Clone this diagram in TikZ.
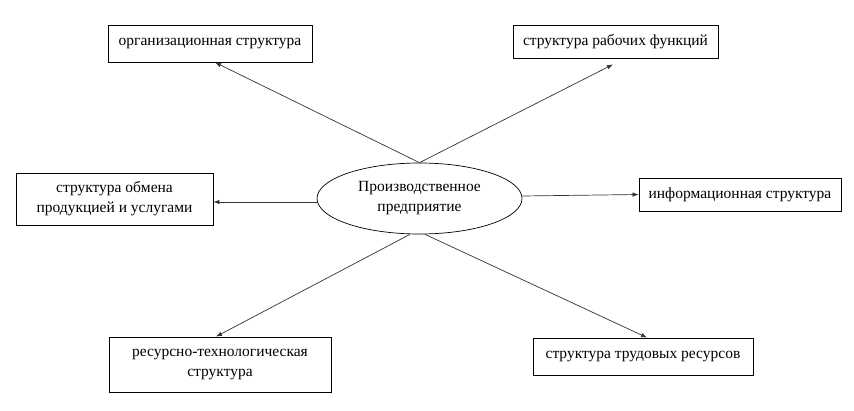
\documentclass[tikz,border=0pt]{standalone}
\usepackage{fontspec}
\setmainfont{Liberation Serif}
\newfontfamily\tnr{Liberation Serif}
\usetikzlibrary{arrows.meta,shapes.geometric}
\begin{document}
\begin{tikzpicture}[x=1pt,y=-1pt,
  box/.style={draw,line width=0.8pt,inner sep=0pt,align=center,font=\tnr\fontsize{15.5}{20}\selectfont},
  oval/.style={draw,ellipse,line width=0.7pt,inner sep=0pt,align=center,font=\tnr\fontsize{15.5}{20}\selectfont},
  arr/.style={line width=0.7pt,draw=black!80,-{Latex[length=6pt,width=4.5pt]}}]
\useasboundingbox (0,0) rectangle (854,410);
\node[box,minimum width=204pt,minimum height=37pt] (b1) at (210,43.5) {организационная структура};
\node[box,minimum width=205pt,minimum height=33pt] (b2) at (615.5,41.5) {структура рабочих функций};
\node[box,minimum width=197pt,minimum height=52pt] (b3) at (114.5,199) {структура обмена\\продукцией и услугами};
\node[box,minimum width=202pt,minimum height=33pt] (b4) at (740,194.5) {информационная структура};
\node[box,minimum width=222pt,minimum height=55pt] (b5) at (220,364.5) {ресурсно-технологическая\\структура};
\node[box,minimum width=220pt,minimum height=37pt] (b6) at (643,356.5) {структура трудовых ресурсов};
\node[oval,minimum width=205pt,minimum height=71pt] (e) at (419.5,198.5) {Производственное\\предприятие};
\draw[arr] (e.north) -- ([xshift=5pt]b1.south);
\draw[arr] (e.north) -- ([xshift=-2.5pt,yshift=-6pt]b2.south);
\draw[arr] ([yshift=-3.5pt]e.west) -- ([yshift=-3pt]b3.east);
\draw[arr] ([yshift=2.5pt]e.east) -- (b4.west);
\draw[arr] ([xshift=-9.5pt]e.south) -- ([xshift=-4pt]b5.north);
\draw[arr] ([xshift=5.5pt]e.south) -- ([xshift=4pt]b6.north);
\end{tikzpicture}
\end{document}
